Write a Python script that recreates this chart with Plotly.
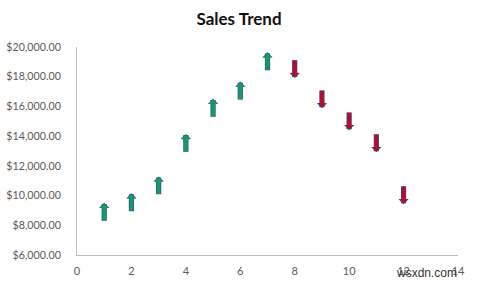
import plotly.graph_objects as go

# Data
periods = [1, 2, 3, 4, 5, 6, 7, 8, 9, 10, 11, 12]
sales = [8860, 9500, 10640, 13500, 15860, 17020, 18990, 18560, 16530, 15050, 13570, 10070]
direction = ["up", "up", "up", "up", "up", "up", "up", "down", "down", "down", "down", "down"]

x_ticks = [0, 2, 4, 6, 8, 10, 12, 14]
y_ticks = [6000, 8000, 10000, 12000, 14000, 16000, 18000, 20000]
y_tick_text = ["$" + f"{v:,.2f}" for v in y_ticks]

UP_FILL = "#169a6b"
DOWN_FILL = "#b40f2a"
OUTLINE = "#2f4f86"
HALF = 650  # half arrow length in data units

fig = go.Figure()
# invisible trace so axes exist
fig.add_trace(go.Scatter(x=periods, y=sales, mode="markers",
                         marker=dict(size=1, opacity=0), showlegend=False, hoverinfo="skip"))

annos = []
for x, y, d in zip(periods, sales, direction):
    if d == "up":
        tip, tail, fill = y + HALF, y - HALF, UP_FILL
    else:
        tip, tail, fill = y - HALF, y + HALF, DOWN_FILL
    # outline layer
    annos.append(dict(x=x, y=tip, ax=x, ay=tail, xref="x", yref="y", axref="x", ayref="y",
                      text="", showarrow=True, arrowhead=1, arrowwidth=5.2, arrowsize=0.33,
                      arrowcolor=OUTLINE))
    # fill layer
    annos.append(dict(x=x, y=tip, ax=x, ay=tail, xref="x", yref="y", axref="x", ayref="y",
                      text="", showarrow=True, arrowhead=1, arrowwidth=3.8, arrowsize=0.37,
                      arrowcolor=fill, standoff=1.0, startstandoff=0.3))

annos.append(dict(text="wsxdn.com", x=1, y=0, xref="paper", yref="paper", xanchor="right",
                  yanchor="middle", xshift=1, yshift=-18, showarrow=False,
                  font=dict(family="Liberation Sans, Arial", size=12, color="#333333")))

fig.update_layout(
    width=478, height=285,
    margin=dict(l=77, r=20, t=47, b=30),
    paper_bgcolor="white", plot_bgcolor="white",
    title=dict(text="<b>Sales Trend</b>", x=0.5, xanchor="center", y=0.933, yanchor="middle",
               font=dict(family="Lato", size=17, color="#111111")),
    annotations=annos,
    showlegend=False,
)
fig.update_xaxes(range=[0, 14], tickvals=x_ticks, showgrid=False, zeroline=False,
                 showline=True, linecolor="#bfbfbf", linewidth=1, ticks="",
                 ticklabelstandoff=6, automargin=False,
                 tickfont=dict(family="Lato", size=11, color="#595959"))
fig.update_yaxes(range=[6000, 20000], tickvals=y_ticks, ticktext=y_tick_text,
                 showgrid=False, zeroline=False, showline=True, linecolor="#bfbfbf",
                 linewidth=1, ticks="", ticklabelstandoff=13, automargin=False,
                 tickfont=dict(family="Lato", size=10.7, color="#595959"))

fig.write_html("out.html")
